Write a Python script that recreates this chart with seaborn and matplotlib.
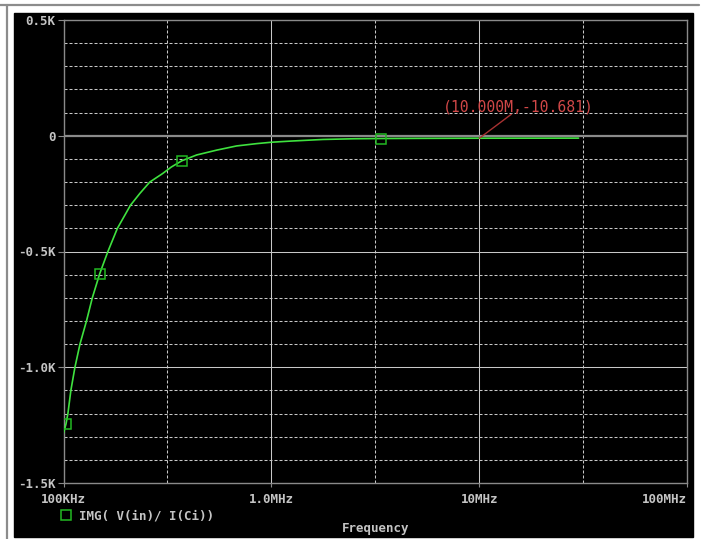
import matplotlib
matplotlib.use("Agg")
import matplotlib.pyplot as plt
import seaborn as sns
import pandas as pd
from matplotlib.lines import Line2D
from matplotlib.patches import Rectangle

# trace: IMG( V(in)/ I(Ci)) vs frequency
freq_hz = [100e3, 102.8e3, 105e3, 108.5e3, 113.5e3, 120e3, 129e3, 137.6e3,
           149.3e3, 163.5e3, 181.6e3, 210e3, 233e3, 260e3, 300e3, 330e3,
           371e3, 437e3, 546e3, 680e3, 850e3, 1.0e6, 1.24e6, 1.77e6,
           2.5e6, 3.35e6, 5e6, 10e6, 20e6, 30e6]
imag_ohm = [-1285, -1245, -1200, -1100, -1000, -900, -800, -700,
            -596, -500, -400, -300, -249, -200, -163, -135,
            -108, -83, -62, -44, -34, -28, -23, -16,
            -13, -12, -11.3, -10.681, -10.4, -10.3]

marker_freq = [102.8e3, 149.3e3, 371e3, 3.35e6]
marker_imag = [-1245, -596, -108, -12]

x_ticks = [1e5, 1e6, 1e7, 1e8]
x_labels = ["100KHz", "1.0MHz", "10MHz", "100MHz"]
x_minor = [10**5.5, 10**6.5, 10**7.5]
y_ticks = [-1500, -1000, -500, 0, 500]
y_labels = ["-1.5K", "-1.0K", "-0.5K", "0", "0.5K"]
y_minor = [v for v in range(-1400, 500, 100) if v % 500 != 0]

cursor_f = 10e6
cursor_v = -10.681
trace_name = "IMG( V(in)/ I(Ci))"

GREEN = "#3fe23f"
MARK = "#22b822"
TXT = "#c4c4c4"
GRID = "#c8c8c8"
AXIS = "#8a8a8a"

sns.set_style("dark", rc={"axes.facecolor": "black"})
plt.rcParams["font.family"] = ["DejaVu Sans Mono", "DejaVu Sans"]

W, H = 701, 539
fig = plt.figure(figsize=(W / 100, H / 100), dpi=100, facecolor="white")
ax = fig.add_axes([63.5 / W, 1 - 483 / H, (687.3 - 63.5) / W, (483 - 20) / H])

# window frame and black plot panel
fig.patches.append(Rectangle((14 / W, 1 - 536.7 / H), (692.7 - 14) / W, (536.7 - 12.7) / H,
                             transform=fig.transFigure, color="black", zorder=-5))
fig.add_artist(Line2D([0, 699 / W], [1 - 4.7 / H] * 2, transform=fig.transFigure,
                      color="#8c8c8c", lw=1.6))
fig.add_artist(Line2D([6.7 / W] * 2, [0, 1 - 4.7 / H], transform=fig.transFigure,
                      color="#8c8c8c", lw=1.6))

df = pd.DataFrame({"freq": freq_hz, "imag": imag_ohm})
mk = pd.DataFrame({"freq": marker_freq, "imag": marker_imag})

ax.set_xscale("log")
ax.set_xlim(1e5, 1e8)
ax.set_ylim(-1500, 500)

# grid
for v in y_minor:
    ax.axhline(v, color=GRID, lw=0.75, ls=(0, (2.9, 1.9)), zorder=1)
for v in x_minor:
    ax.axvline(v, color=GRID, lw=0.75, ls=(0, (2.9, 1.9)), zorder=1)
for v in [-1000, -500]:
    ax.axhline(v, color=GRID, lw=0.75, zorder=1)
for v in [1e6, 1e7]:
    ax.axvline(v, color=GRID, lw=0.75, zorder=1)
ax.axhline(0, color=AXIS, lw=1.6, zorder=1.5)

sns.lineplot(data=df, x="freq", y="imag", color=GREEN, lw=1.2, ax=ax, zorder=3,
             estimator=None, sort=False)
ax.plot(mk["freq"], mk["imag"], ls="none", marker="s", ms=6.5, mfc="none",
        mec=MARK, mew=1.1, zorder=4)

ax.set_xticks(x_ticks)
ax.set_xticklabels(x_labels)
ax.xaxis.set_minor_locator(matplotlib.ticker.NullLocator())
ax.set_yticks(y_ticks)
ax.set_yticklabels(y_labels)
ax.xaxis.get_ticklabels()[-1].set_ha("right")
ax.xaxis.get_ticklabels()[-1].set_x(1e8)
ax.tick_params(axis="x", colors=AXIS, labelcolor=TXT, length=3, width=0.8,
               direction="out", pad=4.5, labelsize=9, bottom=True)
ax.tick_params(axis="y", colors=AXIS, labelcolor=TXT, length=4.3, width=0.8,
               direction="out", pad=1.5, labelsize=9, left=True)
for lab in ax.get_xticklabels() + ax.get_yticklabels():
    lab.set_fontweight("bold")
for sp in ax.spines.values():
    sp.set_color(AXIS)
    sp.set_linewidth(1)
    sp.set_visible(True)
ax.grid(False)
ax.set_xlabel("")
ax.set_ylabel("")

# cursor annotation
ax.annotate("", xy=(cursor_f, cursor_v), xytext=(32, 24), textcoords="offset pixels",
            arrowprops=dict(arrowstyle="-", color="#a83232", lw=1, shrinkA=0, shrinkB=0),
            zorder=5)
ax.annotate(f"({cursor_f / 1e6:.3f}M,{cursor_v:.3f})", xy=(cursor_f, cursor_v),
            xytext=(-36.5, 31.5), textcoords="offset pixels", ha="left", va="center",
            color="#d24848", fontsize=10.6, family=["DejaVu Sans Mono"], zorder=5)

# legend and axis title under the plot
ax.legend(handles=[Line2D([], [], ls="none", marker="s", ms=6.5, mfc="none",
                          mec=MARK, mew=1.1)],
          labels=[trace_name], loc="center left",
          bbox_to_anchor=(60 / W, 1 - 516 / H), bbox_transform=fig.transFigure,
          frameon=False, handlelength=1.0, handletextpad=0.5, borderpad=0,
          borderaxespad=0, labelcolor=TXT, prop={"size": 9, "weight": "bold"})
fig.text(375.4 / W, 1 - 528.5 / H, "Frequency", ha="center", va="center",
         color=TXT, fontsize=9, fontweight="bold")

fig.savefig("out.png", dpi=100, facecolor="white")
